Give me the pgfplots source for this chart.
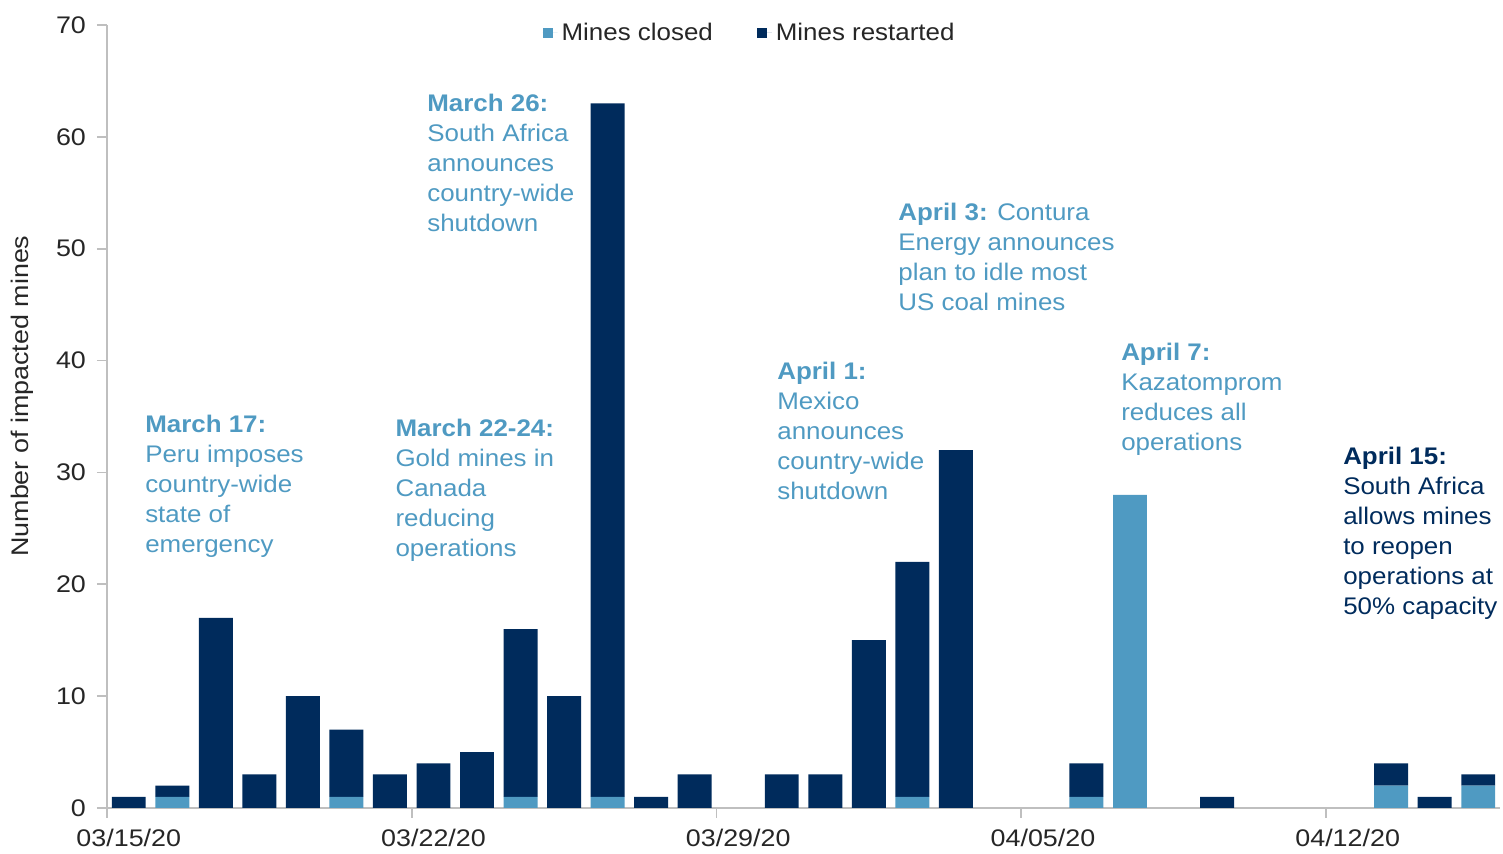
\documentclass[border=0pt]{standalone}
\usepackage{pgfplots}
\pgfplotsset{compat=1.18}
\usepackage{pgfplotstable}
\usepackage{fontspec}
\setmainfont{Liberation Sans}[FakeStretch=1.08]
\newfontfamily\tickfont{Liberation Sans}[FakeStretch=1.12]
\definecolor{closedc}{HTML}{4F9AC2}
\definecolor{restc}{HTML}{002B5C}
\definecolor{axgray}{HTML}{BFBFBF}
\definecolor{txt}{HTML}{262626}

\pgfplotstableread{
x closed restarted
0.5 0 1
1.5 1 1
2.5 0 17
3.5 0 3
4.5 0 10
5.5 1 6
6.5 0 3
7.5 0 4
8.5 0 5
9.5 1 15
10.5 0 10
11.5 1 62
12.5 0 1
13.5 0 3
14.5 0 0
15.5 0 3
16.5 0 3
17.5 0 15
18.5 1 21
19.5 0 32
20.5 0 0
21.5 0 0
22.5 1 3
23.5 28 0
24.5 0 0
25.5 0 1
26.5 0 0
27.5 0 0
28.5 0 0
29.5 2 2
30.5 0 1
31.5 2 1
}\datatable

\begin{document}
\begin{tikzpicture}
\begin{axis}[
  scale only axis, width=696.5pt, height=391.5pt,
  xmin=0, xmax=32, ymin=0, ymax=70,
  ybar stacked, bar width=0.78,
  axis lines*=left,
  axis line style={axgray, line width=0.9pt},
  tick style={axgray, line width=0.9pt},
  tick align=outside,
  major tick length=5pt,
  xtick={0,7,14,21,28},
  xticklabels={03/15/20,03/22/20,03/29/20,04/05/20,04/12/20},
  ytick={0,10,...,70},
  /pgf/number format/assume math mode=true,
  tick label style={font=\tickfont\fontsize{12}{14}\selectfont, text=txt},
  xticklabel style={yshift=-2pt, xshift=10.9pt},
  yticklabel style={xshift=-2pt},
  ylabel={Number of impacted mines},
  ylabel style={font=\tickfont\fontsize{12}{14}\selectfont, text=txt,
    at={(axis description cs:-0.061,0.526)}, anchor=center},
  clip=false,
  legend style={draw=none, fill=none, at={(0.462,0.99)}, anchor=center,
    legend columns=2, font=\fontsize{12}{14}\selectfont, text=txt,
    /tikz/every even column/.append style={column sep=20pt}},
  legend image code/.code={\fill[#1] (0pt,-2.6pt) rectangle (5.2pt,2.6pt); \path (0pt,0pt) -- (7.5pt,0pt);},
]
\addplot[fill=closedc, draw=none] table[x=x, y=closed] {\datatable};
\addlegendentry{Mines closed}
\addplot[fill=restc, draw=none] table[x=x, y=restarted] {\datatable};
\addlegendentry{Mines restarted}

\coordinate (O) at (rel axis cs:0,0);

\tikzset{ann/.style={anchor=north west, inner sep=0pt, align=left,
  font=\fontsize{12}{15}\selectfont, text=closedc}}
\node[ann] at (axis cs:0.87,35.2) {\textbf{March 17:}\\Peru imposes\\country-wide\\state of\\emergency};
\node[ann] at (axis cs:6.62,34.8) {\textbf{March 22-24:}\\Gold mines in\\Canada\\reducing\\operations};
\node[ann] at (axis cs:7.35,63.9) {\textbf{March 26:}\\South Africa\\announces\\country-wide\\shutdown};
\node[ann] at (axis cs:15.39,39.9) {\textbf{April 1:}\\Mexico\\announces\\country-wide\\shutdown};
\node[ann] at (axis cs:18.17,54.1) {\textbf{April 3:} Contura\\Energy announces\\plan to idle most\\US coal mines};
\node[ann] at (axis cs:23.29,41.6) {\textbf{April 7:}\\Kazatomprom\\reduces all\\operations};
\node[ann, text=restc] at (axis cs:28.39,32.3) {\textbf{April 15:}\\South Africa\\allows mines\\to reopen\\operations at\\50\% capacity};
\end{axis}
\path ([xshift=-53.5pt,yshift=-21.5pt]O) rectangle ([xshift=698pt,yshift=404pt]O);
\end{tikzpicture}
\end{document}
